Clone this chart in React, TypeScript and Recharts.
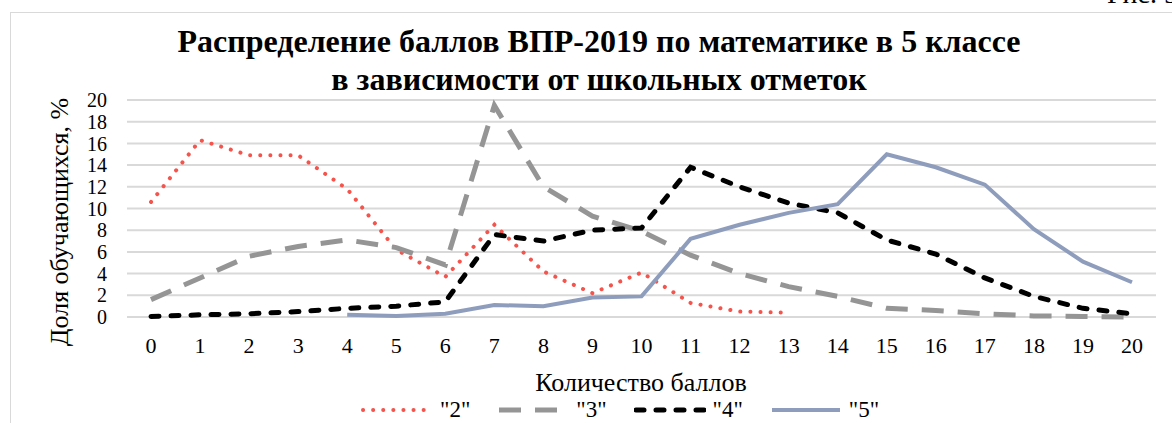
import React from "react";
import {
  LineChart,
  Line,
  XAxis,
  YAxis,
  CartesianGrid,
} from "recharts";

// Количество баллов 0..20
const SCORES = [0, 1, 2, 3, 4, 5, 6, 7, 8, 9, 10, 11, 12, 13, 14, 15, 16, 17, 18, 19, 20];

// Доля обучающихся, % по школьным отметкам
const MARK_2 = [10.6, 16.3, 14.9, 14.9, 11.8, 6.2, 3.7, 8.5, 4.2, 2.2, 4.1, 1.3, 0.5, 0.4, null, null, null, null, null, null, null];
const MARK_3 = [1.6, 3.6, 5.6, 6.5, 7.1, 6.4, 4.8, 19.5, 12.0, 9.3, 7.9, 5.7, 4.0, 2.8, 1.9, 0.8, 0.6, 0.3, 0.1, 0.05, 0.0];
const MARK_4 = [0.05, 0.2, 0.3, 0.5, 0.8, 1.0, 1.4, 7.6, 7.0, 8.0, 8.2, 13.8, 12.0, 10.5, 9.6, 7.1, 5.8, 3.6, 1.9, 0.8, 0.3];
const MARK_5 = [null, null, null, null, 0.2, 0.1, 0.3, 1.1, 1.0, 1.8, 1.9, 7.2, 8.5, 9.6, 10.4, 15.0, 13.8, 12.2, 8.1, 5.1, 3.2];

const Y_TICKS = [0, 2, 4, 6, 8, 10, 12, 14, 16, 18, 20];

const SERIES = [
  { key: "m2", name: '"2"', values: MARK_2, color: "#f4544c", width: 4, dash: "0.1 10", cap: "round" as const },
  { key: "m3", name: '"3"', values: MARK_3, color: "#959595", width: 5, dash: "22 14", cap: "butt" as const },
  { key: "m4", name: '"4"', values: MARK_4, color: "#000000", width: 5, dash: "8 12", cap: "round" as const },
  { key: "m5", name: '"5"', values: MARK_5, color: "#8f9dbd", width: 4, dash: undefined, cap: "butt" as const },
];

const data = SCORES.map((s, i) => {
  const row: Record<string, number | null> = { score: s };
  SERIES.forEach((se) => (row[se.key] = se.values[i]));
  return row;
});

const FONT = '"Liberation Serif", "Times New Roman", serif';

function LegendRow() {
  return (
    <div
      style={{
        position: "absolute",
        top: 397,
        left: 361,
        display: "flex",
        alignItems: "center",
        fontFamily: FONT,
        fontSize: 23,
        lineHeight: "26px",
        color: "#000",
      }}
    >
      {SERIES.map((se, i) => (
        <div key={se.key} style={{ display: "flex", alignItems: "center", marginLeft: i === 0 ? 0 : 27 }}>
          <svg width={72} height={12} style={{ marginRight: 7 }}>
            <line
              x1={2}
              y1={6}
              x2={70}
              y2={6}
              stroke={se.color}
              strokeWidth={se.width}
              strokeDasharray={se.dash}
              strokeLinecap={se.cap}
            />
          </svg>
          <span>{se.name}</span>
        </div>
      ))}
    </div>
  );
}

export default function App() {
  return (
    <div
      style={{
        position: "absolute",
        left: 0,
        top: 0,
        width: 1172,
        height: 423,
        overflow: "hidden",
        background: "#fff",
        fontFamily: FONT,
      }}
    >
      {/* рамка области диаграммы */}
      <div
        style={{
          position: "absolute",
          left: 10,
          top: 12,
          width: 1200,
          height: 500,
          border: "1px solid #d9d9d9",
        }}
      />
      <div style={{ position: "absolute", right: -6, top: -22, fontSize: 28, color: "#000" }}>Рис. 5</div>
      <div
        style={{
          position: "absolute",
          top: 22,
          left: 0,
          width: 1198,
          textAlign: "center",
          fontWeight: "bold",
          fontSize: 32,
          lineHeight: "38px",
          color: "#000",
        }}
      >
        Распределение баллов ВПР-2019 по математике в 5 классе
        <br />в зависимости от школьных отметок
      </div>
      <LineChart
        width={1172}
        height={423}
        data={data}
        margin={{ top: 100, right: 16, bottom: 0, left: 0 }}
        style={{ position: "absolute", left: 0, top: 0 }}
      >
        <CartesianGrid vertical={false} stroke="#d9d9d9" strokeWidth={2} />
        <XAxis
          dataKey="score"
          type="category"
          height={106}
          axisLine={false}
          tickLine={false}
          tickMargin={14}
          padding={{ left: 24, right: 24 }}
          tick={{ fill: "#000", style: { fontFamily: FONT, fontSize: 22 } }}
          label={{
            content: () => (
              <text x={641} y={391} textAnchor="middle" style={{ fontFamily: FONT, fontSize: 26, fill: "#000" }}>
                Количество баллов
              </text>
            ),
          }}
        />
        <YAxis
          domain={[0, 20]}
          ticks={Y_TICKS}
          width={127}
          axisLine={false}
          tickLine={false}
          tickMargin={14}
          interval={0}
          tick={{ fill: "#000", style: { fontFamily: FONT, fontSize: 20 } }}
          label={{
            content: () => (
              <text
                x={0}
                y={0}
                transform="translate(68, 222) rotate(-90)"
                textAnchor="middle"
                style={{ fontFamily: FONT, fontSize: 26, fill: "#000" }}
              >
                Доля обучающихся, %
              </text>
            ),
          }}
        />
        {SERIES.map((se) => (
          <Line
            key={se.key}
            dataKey={se.key}
            name={se.name}
            type="linear"
            stroke={se.color}
            strokeWidth={se.width}
            strokeDasharray={se.dash}
            strokeLinecap={se.cap}
            dot={false}
            activeDot={false}
            isAnimationActive={false}
          />
        ))}
      </LineChart>
      <LegendRow />
    </div>
  );
}
